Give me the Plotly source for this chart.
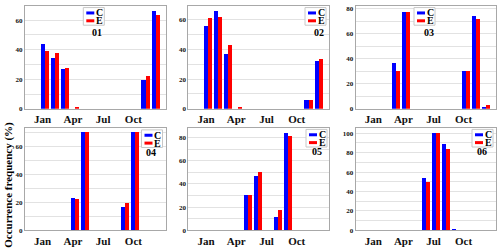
import plotly.graph_objects as go

W, H = 500, 250

months = list(range(1, 13))
tick_vals = [1, 4, 7, 10]
tick_text = ["Jan", "Apr", "Jul", "Oct"]
series_names = ["C", "E"]
panel_labels = ["01", "02", "03", "04", "05", "06"]

c_01 = [44.0, 34.5, 26.5, 0, 0, 0, 0, 0, 0, 0, 19.5, 65.8]
e_01 = [39.0, 38.0, 27.5, 0.5, 0, 0, 0, 0, 0, 0, 22.0, 63.5]
c_02 = [56.0, 65.5, 36.8, 0, 0, 0, 0, 0, 0, 0, 6.0, 32.0]
e_02 = [61.0, 62.0, 42.9, 0.5, 0, 0, 0, 0, 0, 0, 5.7, 33.5]
c_03 = [0, 0, 36.7, 77.4, 0, 0, 0, 0, 0, 30.0, 74.3, 1.6]
e_03 = [0, 0, 30.0, 77.4, 0, 0, 0, 0, 0, 30.4, 72.0, 3.1]
c_04 = [0, 0, 0, 22.8, 69.8, 0, 0, 0, 16.3, 69.8, 0, 0]
e_04 = [0, 0, 0, 21.9, 69.8, 0, 0, 0, 19.0, 69.8, 0, 0]
c_05 = [0, 0, 0, 0, 30.0, 46.3, 0, 11.0, 84.0, 0, 0, 0]
e_05 = [0, 0, 0, 0, 30.3, 50.3, 0, 16.9, 81.2, 0, 0, 0]
c_06 = [0, 0, 0, 0, 0, 53.3, 100.0, 89.0, 0.3, 0, 0, 0]
e_06 = [0, 0, 0, 0, 0, 49.3, 100.0, 83.0, 0, 0, 0, 0]

c_series = [c_01, c_02, c_03, c_04, c_05, c_06]
e_series = [e_01, e_02, e_03, e_04, e_05, e_06]
y_max = [69.5, 69.2, 82.0, 73.0, 88.0, 105.0]

FONT = "Liberation Serif"
BLUE = "#0000ff"
RED = "#ff0000"

# frame positions in px: (left, right) per column, (top, bottom) per row
cols = [(25.0, 165.7), (188.3, 329.0), (355.7, 495.7)]
rows = [(5.3, 110.0), (130.0, 234.0)]

# legend box (left, top) and panel label (x, y) in px
legend_pos = [(83.3, 6.7), (305.0, 6.7), (414.0, 6.7), (141.5, 131.5), (306.0, 131.0), (472.0, 131.0)]
label_pos = [(96.7, 32.3), (319.0, 32.3), (428.7, 32.3), (151.0, 154.3), (317.3, 153.3), (481.7, 154.0)]


def px(x):
    return x / W


def py(y):
    return 1 - y / H


fig = go.Figure()
shapes = []
annotations = []

for i in range(6):
    r, c = divmod(i, 3)
    sfx = "" if i == 0 else str(i + 1)
    xa, ya = "x" + sfx, "y" + sfx
    fig.add_trace(go.Bar(x=months, y=c_series[i], name=series_names[0], marker=dict(color=BLUE, line=dict(width=0)),
                         width=0.4, offset=-0.2, xaxis=xa, yaxis=ya, showlegend=False))
    fig.add_trace(go.Bar(x=months, y=e_series[i], name=series_names[1], marker=dict(color=RED, line=dict(width=0)),
                         width=0.4, offset=0.2, xaxis=xa, yaxis=ya, showlegend=False))
    l, rr = cols[c]
    t, b = rows[r]
    fig.layout["xaxis" + sfx] = dict(
        domain=[px(l), px(rr)], anchor=ya, range=[-0.75, 13.2],
        tickvals=tick_vals, ticktext=tick_text, ticks="", showgrid=False, zeroline=False,
        showline=True, mirror=True, linecolor="#a8a8a8", linewidth=1,
        tickfont=dict(family=FONT, size=11, color="#111", weight="bold"),
    )
    fig.layout["yaxis" + sfx] = dict(
        domain=[py(b), py(t)], anchor=xa, range=[0, y_max[i]], dtick=20, ticks="",
        showgrid=True, gridcolor="#e2e2e2", gridwidth=1, zeroline=False,
        minor=dict(dtick=10, showgrid=True, gridcolor="#e2e2e2", gridwidth=1),
        showline=True, mirror=True, linecolor="#a8a8a8", linewidth=1,
        tickfont=dict(family=FONT, size=7, color="#111", weight="bold"),
    )
    # legend
    lx, ly = legend_pos[i]
    shapes.append(dict(type="rect", xref="paper", yref="paper", x0=px(lx), x1=px(lx + 21), y0=py(ly + 18), y1=py(ly),
                       line=dict(color="#c8c8c8", width=1), fillcolor="white", layer="above"))
    for k, (nm, col) in enumerate(zip(series_names, [BLUE, RED])):
        yy = ly + 5.5 + k * 8
        shapes.append(dict(type="line", xref="paper", yref="paper", x0=px(lx + 3), x1=px(lx + 11), y0=py(yy), y1=py(yy),
                           line=dict(color=col, width=3), layer="above"))
        annotations.append(dict(text=nm, xref="paper", yref="paper", x=px(lx + 16.3), y=py(yy), showarrow=False,
                                xanchor="center", yanchor="middle",
                                font=dict(family=FONT, size=10, color="#000", weight="bold")))
    tx, ty = label_pos[i]
    annotations.append(dict(text=panel_labels[i], xref="paper", yref="paper", x=px(tx), y=py(ty), showarrow=False,
                            xanchor="center", yanchor="middle",
                            font=dict(family=FONT, size=10, color="#000", weight="bold")))

annotations.append(dict(text="Occurrence frequency (%)", xref="paper", yref="paper", x=px(8.5), y=py(188),
                        textangle=-90, showarrow=False, xanchor="center", yanchor="middle",
                        font=dict(family=FONT, size=11, color="#000", weight="bold")))

fig.update_layout(
    width=W, height=H, margin=dict(l=0, r=0, t=0, b=0),
    paper_bgcolor="white", plot_bgcolor="white", barmode="overlay", bargap=0,
    shapes=shapes, annotations=annotations, showlegend=False,
)

fig.write_html("out.html", config={"displayModeBar": False},
               post_script="document.body.style.margin='0';document.body.style.overflow='hidden';")
